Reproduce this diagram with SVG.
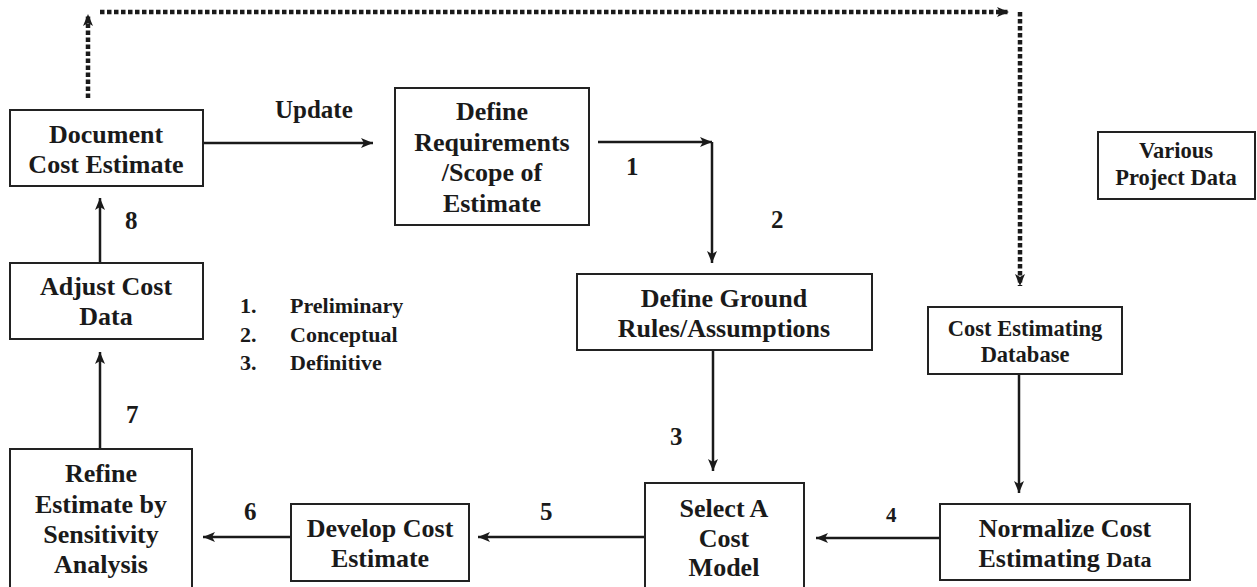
<svg xmlns="http://www.w3.org/2000/svg" width="1257" height="587" viewBox="0 0 1257 587">
<style>
.box{fill:#fff;stroke:#222;stroke-width:2}
text{font-family:"Liberation Serif","Times New Roman",serif;font-weight:bold;fill:#1a1a1a}
.t{font-size:26px;text-anchor:middle}
.s{font-size:22.5px;text-anchor:middle}
.n{font-size:25px}
.l{font-size:22px}
.c{fill:none;stroke:#1a1a1a;stroke-width:2.5}
.d{fill:none;stroke:#1a1a1a;stroke-width:4.5;stroke-dasharray:4.5 2.5}
</style>
<defs>
<marker id="ah" markerWidth="13" markerHeight="12" refX="12" refY="6" orient="auto" markerUnits="userSpaceOnUse">
<path d="M0,1 L12,6 L0,11 L3,6 z" fill="#1a1a1a"/>
</marker>
</defs>
<rect width="1257" height="587" fill="#fff"/>
<g id="connectors">
<path class="d" d="M88,98 V14" marker-end="url(#ah)"/>
<path class="d" d="M100,12 H1009" marker-end="url(#ah)"/>
<path class="d" d="M1020,12 V286" marker-end="url(#ah)"/>
<path class="c" d="M203,143 H373" marker-end="url(#ah)"/>
<path class="c" d="M598,142 H712" marker-end="url(#ah)"/>
<path class="c" d="M712,142 V263" marker-end="url(#ah)"/>
<path class="c" d="M713,350 V471" marker-end="url(#ah)"/>
<path class="c" d="M1019,374 V493" marker-end="url(#ah)"/>
<path class="c" d="M940,538 H816" marker-end="url(#ah)"/>
<path class="c" d="M645,537 H478" marker-end="url(#ah)"/>
<path class="c" d="M291,537 H203" marker-end="url(#ah)"/>
<path class="c" d="M100,449 V352" marker-end="url(#ah)"/>
<path class="c" d="M100,263 V198" marker-end="url(#ah)"/>
<text class="n" x="275" y="118">Update</text>
<text class="n" x="626" y="175">1</text>
<text class="n" x="771" y="228">2</text>
<text class="n" x="670" y="445">3</text>
<text class="n" x="886" y="522" style="font-size:21px">4</text>
<text class="n" x="540" y="520">5</text>
<text class="n" x="244" y="520">6</text>
<text class="n" x="126" y="423">7</text>
<text class="n" x="125" y="229">8</text>
</g>
<g id="legend">
<text class="l" x="240" y="313">1.</text>
<text class="l" x="290" y="313">Preliminary</text>
<text class="l" x="240" y="342">2.</text>
<text class="l" x="290" y="342">Conceptual</text>
<text class="l" x="240" y="370">3.</text>
<text class="l" x="290" y="370">Definitive</text>
</g>
<g id="document">
<rect class="box" x="10" y="110" width="193" height="76"/>
<text class="t" x="106" y="143">Document</text>
<text class="t" x="106" y="173">Cost Estimate</text>
</g>
<g id="requirements">
<rect class="box" x="395" y="88" width="194" height="137"/>
<text class="t" x="492" y="120">Define</text>
<text class="t" x="492" y="151">Requirements</text>
<text class="t" x="492" y="181">/Scope of</text>
<text class="t" x="492" y="212">Estimate</text>
</g>
<g id="groundrules">
<rect class="box" x="577" y="274" width="295" height="76"/>
<text class="t" x="724" y="307">Define Ground</text>
<text class="t" x="724" y="337">Rules/Assumptions</text>
</g>
<g id="selectmodel">
<rect class="box" x="645" y="483" width="159" height="110"/>
<text class="t" x="724" y="517">Select A</text>
<text class="t" x="724" y="547">Cost</text>
<text class="t" x="724" y="576">Model</text>
</g>
<g id="database">
<rect class="box" x="928" y="307" width="194" height="67"/>
<text class="s" x="1025" y="336">Cost Estimating</text>
<text class="s" x="1025" y="362">Database</text>
</g>
<g id="normalize">
<rect class="box" x="940" y="504" width="250" height="76"/>
<text class="t" x="1065" y="537">Normalize Cost</text>
<text class="t" x="1065" y="567">Estimating <tspan style="font-size:22px">Data</tspan></text>
</g>
<g id="projectdata">
<rect class="box" x="1098" y="132" width="157" height="67"/>
<text class="s" x="1176" y="158">Various</text>
<text class="s" x="1176" y="185">Project Data</text>
</g>
<g id="develop">
<rect class="box" x="291" y="504" width="178" height="77"/>
<text class="t" x="380" y="537">Develop Cost</text>
<text class="t" x="380" y="567">Estimate</text>
</g>
<g id="refine">
<rect class="box" x="10" y="449" width="182" height="144"/>
<text class="t" x="101" y="482">Refine</text>
<text class="t" x="101" y="513">Estimate by</text>
<text class="t" x="101" y="543">Sensitivity</text>
<text class="t" x="101" y="573">Analysis</text>
</g>
<g id="adjust">
<rect class="box" x="10" y="263" width="193" height="76"/>
<text class="t" x="106" y="295">Adjust Cost</text>
<text class="t" x="106" y="325">Data</text>
</g>
</svg>
